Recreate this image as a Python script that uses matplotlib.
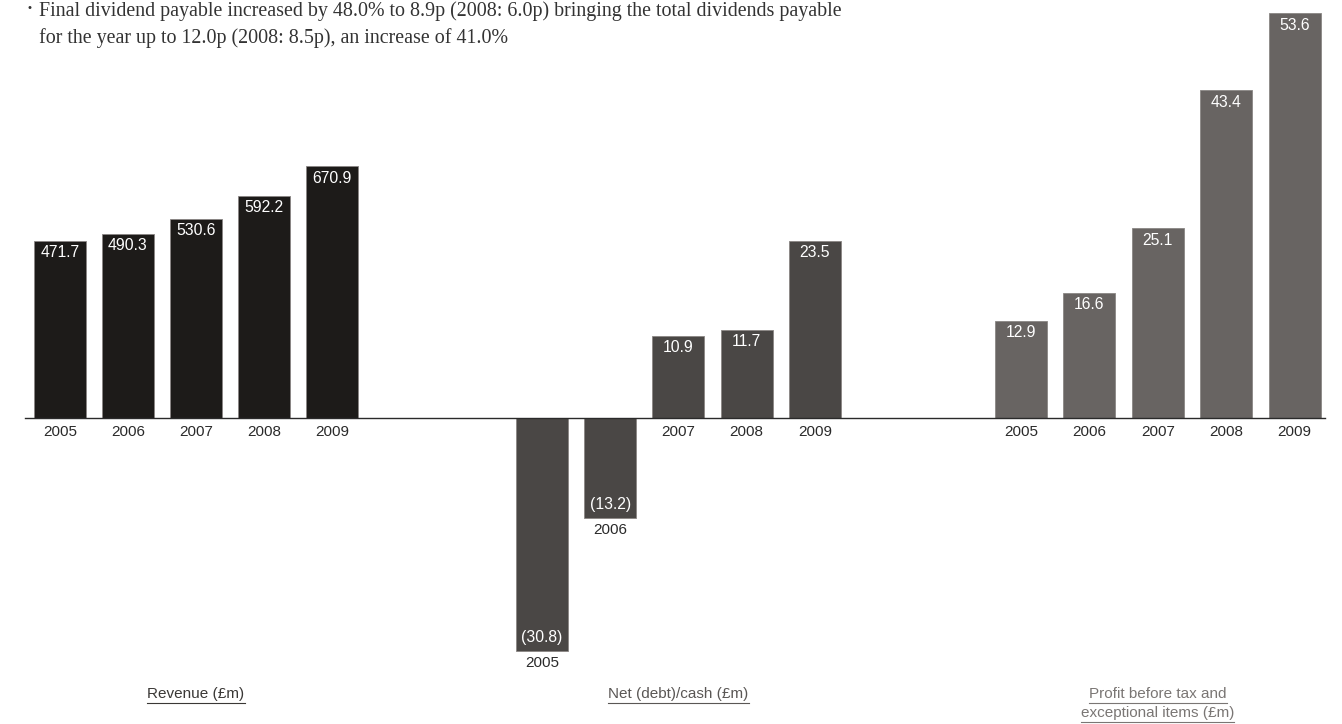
import matplotlib
matplotlib.use("Agg")
import matplotlib.pyplot as plt
from matplotlib.lines import Line2D

# ---------------- data ----------------
years = ["2005", "2006", "2007", "2008", "2009"]
revenue = [471.7, 490.3, 530.6, 592.2, 670.9]
net_cash = [-30.8, -13.2, 10.9, 11.7, 23.5]
profit = [12.9, 16.6, 25.1, 43.4, 53.6]

revenue_title = ["Revenue (£m)"]
net_title = ["Net (debt)/cash (£m)"]
profit_title = ["Profit before tax and", "exceptional items (£m)"]

header_lines = [
    "Final dividend payable increased by 48.0% to 8.9p (2008: 6.0p) bringing the total dividends payable",
    "for the year up to 12.0p (2008: 8.5p), an increase of 41.0%",
]

# ---------------- layout (pixels) ----------------
W, H = 1342, 724
BASE_Y = 418  # baseline, px from top
fig = plt.figure(figsize=(W / 100, H / 100), dpi=100)

SANS = ["Liberation Sans", "DejaVu Sans"]
SERIF = ["Liberation Serif", "DejaVu Serif"]

val_fs = 11.3
yr_fs = 11.0


def fx(x):
    return x / W


def fy(y):
    return 1 - y / H


panels = [
    # (values, titles, color, text color, axes px left, right, first center, pitch, px per unit)
    (revenue, revenue_title, "#1d1b19", "#3a3836", 25, 440, 60, 68.0, 0.3755),
    (net_cash, net_title, "#4a4745", "#5a5755", 440, 918, 542, 68.2, 7.55),
    (profit, profit_title, "#686462", "#7a7674", 918, 1325, 1021, 68.4, 7.55),
]

BAR_W_PX = 52
px2pt = 72 / 100

for vals, titles, col, tcol, x0, x1, c0, pitch, scale in panels:
    ax = fig.add_axes([fx(x0), 0, fx(x1 - x0), 1])
    ax.set_axis_off()
    ax.patch.set_alpha(0)
    ax.set_xlim((x0 - c0) / pitch, (x1 - c0) / pitch)
    ax.set_ylim(-(H - BASE_Y) / scale, BASE_Y / scale)
    xs = list(range(len(vals)))
    ax.bar(xs, vals, width=BAR_W_PX / pitch, color=col,
           edgecolor="#8a8684", linewidth=0.6)
    for x, v, yr in zip(xs, vals, years):
        if v >= 0:
            lab = f"{v:.1f}"
            ax.annotate(lab, (x, v), xytext=(0, -12 * px2pt), textcoords="offset points",
                        ha="center", va="center", color="white", fontsize=val_fs,
                        family=SANS)
            ax.annotate(yr, (x, 0), xytext=(0, -13.5 * px2pt), textcoords="offset points",
                        ha="center", va="center", color="#2a2a2a", fontsize=yr_fs,
                        family=SANS)
        else:
            lab = f"({abs(v):.1f})"
            ax.annotate(lab, (x, v), xytext=(0, 13 * px2pt), textcoords="offset points",
                        ha="center", va="center", color="white", fontsize=val_fs,
                        family=SANS)
            ax.annotate(yr, (x, v), xytext=(0, -12.5 * px2pt), textcoords="offset points",
                        ha="center", va="center", color="#2a2a2a", fontsize=yr_fs,
                        family=SANS)

    # panel title (underlined)
    cx = c0 + pitch * (len(vals) - 1) / 2
    for i, line in enumerate(titles):
        yb = 698 + i * 19
        t = fig.text(fx(cx), fy(yb), line, ha="center", va="baseline",
                     color=tcol, fontsize=11, family=SANS)
        t._underline_y = yb + 5
        t._underline_col = tcol

# baseline across all panels
fig.add_artist(Line2D([fx(25), fx(1325)], [fy(BASE_Y), fy(BASE_Y)],
                      transform=fig.transFigure, color="#2a2a2a", lw=1.0))

# header text
fig.text(fx(27), fy(11), "•", ha="left", va="baseline", fontsize=8,
         color="#333333", family=SANS)
for i, line in enumerate(header_lines):
    fig.text(fx(39), fy(16 + i * 27), line, ha="left", va="baseline",
             fontsize=14.4, color="#333333", family=SERIF)

# underlines for titles
fig.canvas.draw()
r = fig.canvas.get_renderer()
for t in list(fig.texts):
    if hasattr(t, "_underline_y"):
        bb = t.get_window_extent(r)
        yl = t._underline_y
        fig.add_artist(Line2D([bb.x0 / W, bb.x1 / W], [fy(yl), fy(yl)],
                              transform=fig.transFigure, color=t._underline_col, lw=0.8))

fig.savefig("out.png", dpi=100)
